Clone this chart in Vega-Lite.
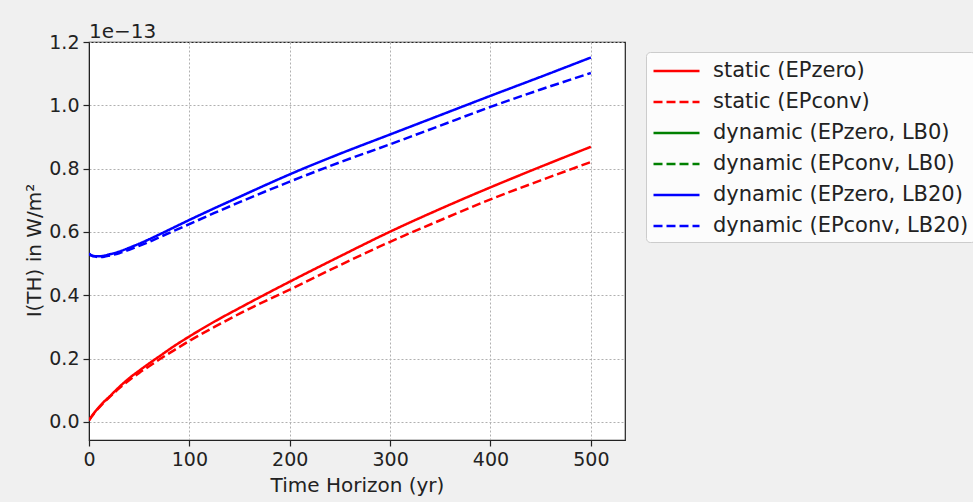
{
  "$schema": "https://vega.github.io/schema/vega-lite/v6.json",
  "autosize": {"type": "none"},
  "padding": {"left": 89, "top": 42, "right": 348, "bottom": 62},
  "width": 536,
  "height": 398,
  "background": "#f0f0f0",
  "title": {"text": "1e\u221213", "anchor": "start", "frame": "group", "fontSize": 20, "fontWeight": "normal", "font": "DejaVu Sans", "color": "#222222", "baseline": "alphabetic", "offset": -25},
  "config": {
    "view": {"fill": "white", "stroke": "#222222", "strokeWidth": 1.2},
    "axis": {
      "labelFont": "DejaVu Sans", "titleFont": "DejaVu Sans",
      "labelFontSize": 19, "titleFontSize": 20, "titleFontWeight": "normal",
      "labelColor": "#222222", "titleColor": "#222222",
      "domainColor": "#222222", "tickColor": "#222222", "tickSize": 6, "tickWidth": 1.2,
      "labelPadding": 4, "labelFlush": false,
      "gridColor": "#b0b0b0", "gridDash": [2, 2], "gridWidth": 1
    },
    "legend": {
      "orient": "none", "legendX": 557, "legendY": 10,
      "labelFont": "DejaVu Sans", "labelFontSize": 21, "labelColor": "#222222", "labelLimit": 400,
      "symbolType": "M-1,0H3", "symbolSize": 529, "symbolStrokeWidth": 2.5,
      "labelOffset": 35, "rowPadding": 8, "padding": 6,
      "fillColor": "#fcfcfc", "strokeColor": "#cccccc", "cornerRadius": 4
    }
  },
  "data": {"values": [
    {"t":0,"s":"static (EPzero)","v":0.005},{"t":2,"s":"static (EPzero)","v":0.015},{"t":5,"s":"static (EPzero)","v":0.028},{"t":10,"s":"static (EPzero)","v":0.047},{"t":15,"s":"static (EPzero)","v":0.064},{"t":20,"s":"static (EPzero)","v":0.079},{"t":30,"s":"static (EPzero)","v":0.11},{"t":40,"s":"static (EPzero)","v":0.138},{"t":50,"s":"static (EPzero)","v":0.162},{"t":60,"s":"static (EPzero)","v":0.185},{"t":70,"s":"static (EPzero)","v":0.207},{"t":85,"s":"static (EPzero)","v":0.24},{"t":100,"s":"static (EPzero)","v":0.27},{"t":125,"s":"static (EPzero)","v":0.317},{"t":150,"s":"static (EPzero)","v":0.36},{"t":175,"s":"static (EPzero)","v":0.402},{"t":200,"s":"static (EPzero)","v":0.443},{"t":250,"s":"static (EPzero)","v":0.523},{"t":300,"s":"static (EPzero)","v":0.601},{"t":350,"s":"static (EPzero)","v":0.673},{"t":400,"s":"static (EPzero)","v":0.741},{"t":450,"s":"static (EPzero)","v":0.806},{"t":500,"s":"static (EPzero)","v":0.869},
    {"t":0,"s":"static (EPconv)","v":0.005},{"t":2,"s":"static (EPconv)","v":0.014},{"t":5,"s":"static (EPconv)","v":0.027},{"t":10,"s":"static (EPconv)","v":0.045},{"t":15,"s":"static (EPconv)","v":0.062},{"t":20,"s":"static (EPconv)","v":0.077},{"t":30,"s":"static (EPconv)","v":0.106},{"t":40,"s":"static (EPconv)","v":0.132},{"t":50,"s":"static (EPconv)","v":0.155},{"t":60,"s":"static (EPconv)","v":0.176},{"t":70,"s":"static (EPconv)","v":0.197},{"t":85,"s":"static (EPconv)","v":0.227},{"t":100,"s":"static (EPconv)","v":0.256},{"t":125,"s":"static (EPconv)","v":0.3},{"t":150,"s":"static (EPconv)","v":0.342},{"t":175,"s":"static (EPconv)","v":0.381},{"t":200,"s":"static (EPconv)","v":0.418},{"t":250,"s":"static (EPconv)","v":0.495},{"t":300,"s":"static (EPconv)","v":0.569},{"t":350,"s":"static (EPconv)","v":0.637},{"t":400,"s":"static (EPconv)","v":0.703},{"t":450,"s":"static (EPconv)","v":0.763},{"t":500,"s":"static (EPconv)","v":0.821},
    {"t":0,"s":"dynamic (EPzero, LB20)","v":0.532},{"t":2,"s":"dynamic (EPzero, LB20)","v":0.527},{"t":5,"s":"dynamic (EPzero, LB20)","v":0.524},{"t":10,"s":"dynamic (EPzero, LB20)","v":0.523},{"t":15,"s":"dynamic (EPzero, LB20)","v":0.525},{"t":20,"s":"dynamic (EPzero, LB20)","v":0.529},{"t":30,"s":"dynamic (EPzero, LB20)","v":0.538},{"t":40,"s":"dynamic (EPzero, LB20)","v":0.55},{"t":50,"s":"dynamic (EPzero, LB20)","v":0.563},{"t":60,"s":"dynamic (EPzero, LB20)","v":0.577},{"t":70,"s":"dynamic (EPzero, LB20)","v":0.592},{"t":85,"s":"dynamic (EPzero, LB20)","v":0.615},{"t":100,"s":"dynamic (EPzero, LB20)","v":0.638},{"t":125,"s":"dynamic (EPzero, LB20)","v":0.675},{"t":150,"s":"dynamic (EPzero, LB20)","v":0.711},{"t":175,"s":"dynamic (EPzero, LB20)","v":0.747},{"t":200,"s":"dynamic (EPzero, LB20)","v":0.782},{"t":250,"s":"dynamic (EPzero, LB20)","v":0.847},{"t":300,"s":"dynamic (EPzero, LB20)","v":0.908},{"t":350,"s":"dynamic (EPzero, LB20)","v":0.969},{"t":400,"s":"dynamic (EPzero, LB20)","v":1.03},{"t":450,"s":"dynamic (EPzero, LB20)","v":1.09},{"t":500,"s":"dynamic (EPzero, LB20)","v":1.151},
    {"t":0,"s":"dynamic (EPconv, LB20)","v":0.532},{"t":2,"s":"dynamic (EPconv, LB20)","v":0.526},{"t":5,"s":"dynamic (EPconv, LB20)","v":0.523},{"t":10,"s":"dynamic (EPconv, LB20)","v":0.521},{"t":15,"s":"dynamic (EPconv, LB20)","v":0.522},{"t":20,"s":"dynamic (EPconv, LB20)","v":0.525},{"t":30,"s":"dynamic (EPconv, LB20)","v":0.533},{"t":40,"s":"dynamic (EPconv, LB20)","v":0.544},{"t":50,"s":"dynamic (EPconv, LB20)","v":0.556},{"t":60,"s":"dynamic (EPconv, LB20)","v":0.569},{"t":70,"s":"dynamic (EPconv, LB20)","v":0.583},{"t":85,"s":"dynamic (EPconv, LB20)","v":0.604},{"t":100,"s":"dynamic (EPconv, LB20)","v":0.625},{"t":125,"s":"dynamic (EPconv, LB20)","v":0.66},{"t":150,"s":"dynamic (EPconv, LB20)","v":0.694},{"t":175,"s":"dynamic (EPconv, LB20)","v":0.727},{"t":200,"s":"dynamic (EPconv, LB20)","v":0.759},{"t":250,"s":"dynamic (EPconv, LB20)","v":0.82},{"t":300,"s":"dynamic (EPconv, LB20)","v":0.877},{"t":350,"s":"dynamic (EPconv, LB20)","v":0.936},{"t":400,"s":"dynamic (EPconv, LB20)","v":0.995},{"t":450,"s":"dynamic (EPconv, LB20)","v":1.05},{"t":500,"s":"dynamic (EPconv, LB20)","v":1.102}
  ]},
  "mark": {"type": "line", "strokeWidth": 2.5, "interpolate": "monotone", "clip": true},
  "encoding": {
    "x": {"field": "t", "type": "quantitative", "title": "Time Horizon (yr)",
      "scale": {"domain": [0, 534], "nice": false, "zero": false},
      "axis": {"values": [0, 100, 200, 300, 400, 500], "format": "d", "titlePadding": 6}},
    "y": {"field": "v", "type": "quantitative", "title": "I(TH) in W/m\u00b2",
      "scale": {"domain": [-0.057, 1.2], "nice": false, "zero": false},
      "axis": {"values": [0, 0.2, 0.4, 0.6, 0.8, 1.0, 1.2], "format": ".1f", "titlePadding": 4, "titleY": 208}},
    "color": {"field": "s", "type": "nominal", "legend": {"title": null},
      "scale": {"domain": ["static (EPzero)", "static (EPconv)", "dynamic (EPzero, LB0)", "dynamic (EPconv, LB0)", "dynamic (EPzero, LB20)", "dynamic (EPconv, LB20)"],
        "range": ["#ff0000", "#ff0000", "#008000", "#008000", "#0000ff", "#0000ff"]}},
    "strokeDash": {"field": "s", "type": "nominal", "legend": {"title": null},
      "scale": {"domain": ["static (EPzero)", "static (EPconv)", "dynamic (EPzero, LB0)", "dynamic (EPconv, LB0)", "dynamic (EPzero, LB20)", "dynamic (EPconv, LB20)"],
        "range": [[1, 0], [9, 4], [1, 0], [9, 4], [1, 0], [9, 4]]}}
  }
}
